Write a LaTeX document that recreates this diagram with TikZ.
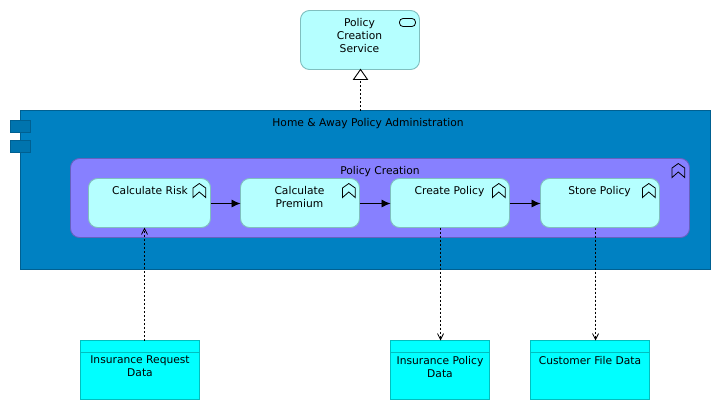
\documentclass[tikz,border=0pt]{standalone}
\usepackage{fontspec}
\setmainfont{DejaVu Sans}
\usetikzlibrary{arrows.meta}
\definecolor{mainfill}{HTML}{0081C2}
\definecolor{mainline}{HTML}{006091}
\definecolor{tabfill}{HTML}{0074AE}
\definecolor{purplefill}{HTML}{8780FF}
\definecolor{purpleline}{HTML}{6560BF}
\definecolor{lightfill}{HTML}{B5FFFF}
\definecolor{lightline}{HTML}{7FBFBF}
\definecolor{datafill}{HTML}{00FFFF}
\definecolor{dataline}{HTML}{00BFBF}
\tikzset{
  x=1pt,y=-1pt,
  every node/.style={font=\fontsize{10.7}{13}\selectfont,inner sep=0pt,outer sep=0pt},
  box/.style={draw,line width=0.9pt,anchor=north west,rectangle},
  procbox/.style={box,fill=lightfill,draw=lightline,rounded corners=9pt},
  databox/.style={box,fill=datafill,draw=dataline},
  tabbox/.style={box,fill=tabfill,draw=mainline},
  txt/.style={align=center,anchor=north},
  flow/.style={-{Latex[length=9pt,width=8pt]},line width=0.8pt},
  access/.style={line width=0.8pt,dash pattern=on 2pt off 2pt},
  pics/chev/.style={code={\draw[line width=0.8pt,line join=miter] (0,4.5)--(6.3,0)--(12.7,4.5)--(12.7,14)--(6.3,8.5)--(0,14)--cycle;}}
}
\begin{document}
\begin{tikzpicture}
\useasboundingbox (0,0) rectangle (720,410);
% boxes
\node[procbox,minimum width=119pt,minimum height=59pt] (svc) at (300.5,10.5) {};
\node[txt] (svct) at (359.5,18) {Policy\\Creation\\Service};
\draw[line width=0.8pt,rounded corners=3.5pt] (399.5,18.5) rectangle (415.5,26.5);
\node[box,fill=mainfill,draw=mainline,minimum width=689.5pt,minimum height=159pt] (main) at (20.5,110.5) {};
\node[tabbox,minimum width=20.5pt,minimum height=12.5pt] (tab1) at (10,120) {};
\node[tabbox,minimum width=20.5pt,minimum height=12.5pt] (tab2) at (10,140) {};
\node[txt] (maint) at (368,118) {Home \& Away Policy Administration};
\node[box,fill=purplefill,draw=purpleline,rounded corners=9pt,minimum width=619pt,minimum height=79pt] (pc) at (70.5,158.5) {};
\node[txt] (pct) at (380,166) {Policy Creation};
\pic at (672,163.5) {chev};
\node[procbox,minimum width=122pt,minimum height=49pt] (risk) at (88.5,178.5) {};
\node[txt] (riskt) at (150,186) {Calculate Risk};
\pic at (193,183.5) {chev};
\node[procbox,minimum width=119pt,minimum height=49pt] (prem) at (240.5,178.5) {};
\node[txt] (premt) at (299.5,186) {Calculate\\Premium};
\pic at (342.5,183.5) {chev};
\node[procbox,minimum width=119pt,minimum height=49pt] (crea) at (390.5,178.5) {};
\node[txt] (creat) at (449.5,186) {Create Policy};
\pic at (492.5,183.5) {chev};
\node[procbox,minimum width=119pt,minimum height=49pt] (stor) at (540.5,178.5) {};
\node[txt] (stort) at (599.5,186) {Store Policy};
\pic at (642.5,183.5) {chev};
% data
\node[databox,minimum width=119pt,minimum height=59pt] (req) at (80.5,340.5) {};
\draw[dataline,line width=0.9pt] (req.west |- 0,352.5) -- (req.east |- 0,352.5);
\node[txt] (reqt) at (140,356) {Insurance Request\\Data};
\node[databox,minimum width=99pt,minimum height=59pt] (pol) at (390.5,340.5) {};
\draw[dataline,line width=0.9pt] (pol.west |- 0,352.5) -- (pol.east |- 0,352.5);
\node[txt] (polt) at (440,356) {Insurance Policy\\Data};
\node[databox,minimum width=119pt,minimum height=59pt] (cust) at (530.5,340.5) {};
\draw[dataline,line width=0.9pt] (cust.west |- 0,352.5) -- (cust.east |- 0,352.5);
\node[txt] (custt) at (590,356) {Customer File Data};
% connectors
\coordinate (xa) at (144.5,0);
\coordinate (xb) at (440.5,0);
\coordinate (xc) at (595.5,0);
\coordinate (xs) at (360.5,0);
\coordinate (ya) at (0,203.5);
\draw[flow] (risk.east |- ya) -- (prem.west |- ya);
\draw[flow] (prem.east |- ya) -- (crea.west |- ya);
\draw[flow] (crea.east |- ya) -- (stor.west |- ya);
\draw[access] (xs |- main.north) -- (xs |- 0,80);
\draw[line width=0.9pt,fill=white] (xs |- svc.south) -- ++(7,10) -- ++(-14,0) -- cycle;
\draw[access,-{Straight Barb[length=6pt,width=6pt]}] (xa |- req.north) -- (xa |- risk.south);
\draw[access,-{Straight Barb[length=6pt,width=6pt]}] (xb |- crea.south) -- (xb |- pol.north);
\draw[access,-{Straight Barb[length=6pt,width=6pt]}] (xc |- stor.south) -- (xc |- cust.north);
\end{tikzpicture}
\end{document}
